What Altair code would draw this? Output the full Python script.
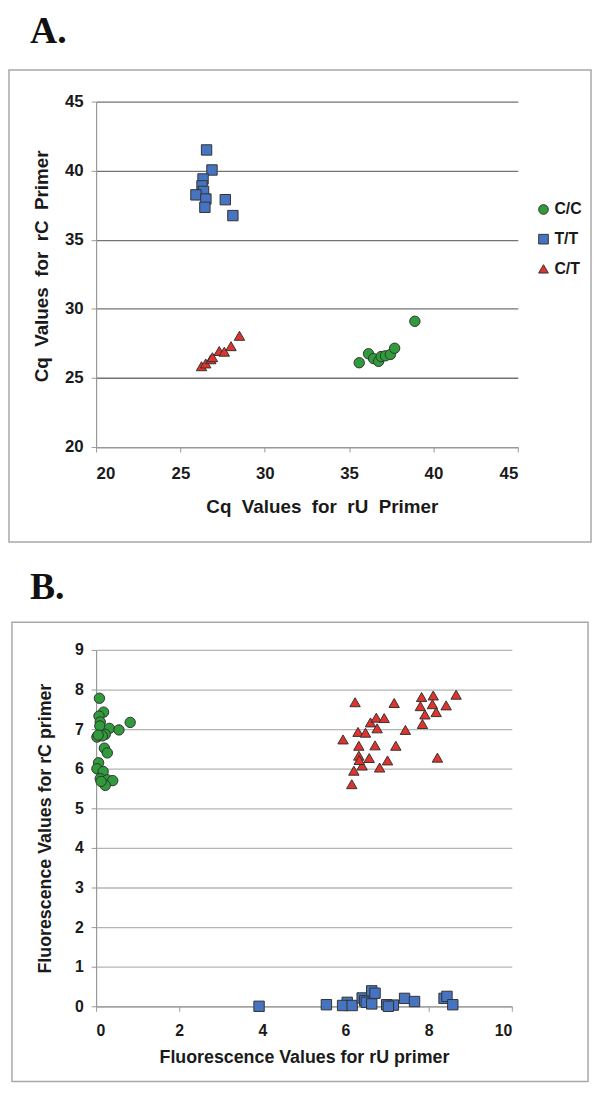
import altair as alt
import pandas as pd

# ---------------- Panel A (Cq values) ----------------
a_cc_x = [35.6, 36.15, 36.45, 36.75, 36.9, 37.15, 37.45, 37.7, 38.9]
a_cc_y = [26.1, 26.75, 26.4, 26.2, 26.55, 26.6, 26.7, 27.15, 29.1]
a_tt_x = [26.55, 26.87, 26.34, 26.28, 26.37, 25.92, 26.51, 26.45, 27.66, 28.11]
a_tt_y = [41.5, 40.05, 39.4, 38.9, 38.5, 38.25, 37.95, 37.35, 37.9, 36.75]
a_ct_x = [26.25, 26.5, 26.8, 26.9, 27.3, 27.6, 28.0, 28.5]
a_ct_y = [25.85, 26.05, 26.35, 26.5, 26.95, 26.9, 27.3, 28.05]
a_xticks = [20, 25, 30, 35, 40, 45]
a_yticks = [20, 25, 30, 35, 40, 45]

# ---------------- Panel B (fluorescence values) ----------------
b_cc_x = [0.08, 0.18, 0.07, 0.1, 0.09, 0.32, 0.55, 0.82, 0.22, 0.02, 0.15,
          0.2, 0.27, 0.06, 0.02, 0.17, 0.1, 0.27, 0.4, 0.22, 0.12, 0.05]
b_cc_y = [7.78, 7.43, 7.33, 7.18, 7.08, 7.02, 6.98, 7.17, 6.87, 6.8, 6.83,
          6.52, 6.4, 6.15, 6.0, 5.93, 5.75, 5.72, 5.7, 5.58, 5.68, 6.85]
b_tt_x = [3.92, 5.54, 6.04, 5.93, 6.16, 6.40, 6.46, 6.50, 6.63, 6.71,
          6.63, 6.99, 7.15, 7.03, 7.42, 7.66, 8.37, 8.44, 8.58]
b_tt_y = [0.0, 0.04, 0.1, 0.02, 0.02, 0.21, 0.14, 0.1, 0.39, 0.33,
          0.06, 0.04, 0.03, 0.0, 0.2, 0.12, 0.2, 0.25, 0.04]
b_ct_x = [6.23, 7.17, 7.83, 8.11, 8.66, 7.80, 8.09, 8.42, 7.91, 8.18, 7.85,
          6.60, 6.74, 6.93, 6.76, 7.44, 6.30, 6.48, 5.94, 6.32, 6.71, 7.21,
          6.32, 6.57, 8.21, 7.01, 6.40, 6.82, 6.20, 6.15, 6.33]
b_ct_y = [7.68, 7.66, 7.81, 7.85, 7.87, 7.58, 7.63, 7.60, 7.37, 7.43, 7.13,
          7.17, 7.29, 7.28, 7.02, 6.98, 6.93, 6.91, 6.74, 6.58, 6.59, 6.58,
          6.33, 6.27, 6.28, 6.21, 6.08, 6.03, 5.95, 5.61, 6.22]
b_xticks = [0, 2, 4, 6, 8, 10]
b_yticks = [0, 1, 2, 3, 4, 5, 6, 7, 8, 9]

genotypes = ["C/C", "T/T", "C/T"]
colors = ["#2f9b3a", "#4674c0", "#e0332c"]
shapes = ["circle", "square", "triangle-up"]


def make_df(cc_x, cc_y, tt_x, tt_y, ct_x, ct_y):
    rows = []
    for g, xs, ys in (("C/C", cc_x, cc_y), ("T/T", tt_x, tt_y), ("C/T", ct_x, ct_y)):
        for x, y in zip(xs, ys):
            rows.append({"x": x, "y": y, "genotype": g})
    return pd.DataFrame(rows)


FONT = "Liberation Sans"


def panel(df, label, xdom, ydom, xticks, yticks, xtitle, ytitle, w, h,
          box, grid_color, legend_x, legend_y, row_pad, tick_size_font,
          x_lab_pad, x_title_pad, y_title_pad, title_size, title_offset,
          title_dx, x_title_x=None, y_title_y=None):
    legend = alt.Legend(
        title=None, orient="none", legendX=legend_x, legendY=legend_y,
        labelFont=FONT, labelFontSize=16, labelFontWeight="bold",
        labelColor="#1a1a1a", symbolSize=95, symbolStrokeColor="#333333",
        symbolStrokeWidth=1, rowPadding=row_pad, labelOffset=3, padding=0,
    )
    xaxis_kw = dict(values=xticks, title=xtitle, grid=False,
                    tickSize=5, tickColor="#999999",
                    domainColor="#999999", domainWidth=1.2,
                    labelFont=FONT, labelFontSize=tick_size_font,
                    labelFontWeight="bold", labelColor="#1a1a1a",
                    labelPadding=x_lab_pad, titleFont=FONT,
                    titleFontSize=title_size, titleFontWeight="bold",
                    titleColor="#1a1a1a", titlePadding=x_title_pad)
    if x_title_x is not None:
        xaxis_kw["titleX"] = x_title_x
    yaxis_kw = dict(values=yticks, title=ytitle, grid=True,
                    gridColor=grid_color, gridWidth=1.3,
                    tickSize=5, tickColor="#999999",
                    domainColor="#999999", domainWidth=1.2,
                    labelFont=FONT, labelFontSize=tick_size_font,
                    labelFontWeight="bold", labelColor="#1a1a1a",
                    labelPadding=8, titleFont=FONT,
                    titleFontSize=title_size, titleFontWeight="bold",
                    titleColor="#1a1a1a", titlePadding=y_title_pad)
    if y_title_y is not None:
        yaxis_kw["titleY"] = y_title_y
    pts = alt.Chart(df).mark_point(
        filled=True, size=110, stroke="#333333", strokeWidth=1, opacity=1
    ).encode(
        x=alt.X("x:Q", scale=alt.Scale(domain=xdom, nice=False, zero=False),
                axis=alt.Axis(**xaxis_kw)),
        y=alt.Y("y:Q", scale=alt.Scale(domain=ydom, nice=False, zero=False),
                axis=alt.Axis(**yaxis_kw)),
        color=alt.Color("genotype:N", scale=alt.Scale(domain=genotypes, range=colors),
                        legend=legend),
        shape=alt.Shape("genotype:N", scale=alt.Scale(domain=genotypes, range=shapes),
                        legend=legend),
    )
    frame = alt.Chart(pd.DataFrame({"k": [0]})).mark_rect(
        fillOpacity=0, stroke="#a8a8a8", strokeWidth=1.5
    ).encode(
        x=alt.value(box[0]), x2=alt.value(box[1]),
        y=alt.value(box[2]), y2=alt.value(box[3]),
    )
    return alt.layer(frame, pts).properties(
        width=w, height=h,
        title=alt.TitleParams(
            text=label, anchor="start", frame="bounds", font="Liberation Serif",
            fontSize=38, fontWeight="bold", color="#111111",
            offset=title_offset, dx=title_dx,
        ),
    )


df_a = make_df(a_cc_x, a_cc_y, a_tt_x, a_tt_y, a_ct_x, a_ct_y)
df_b = make_df(b_cc_x, b_cc_y, b_tt_x, b_tt_y, b_ct_x, b_ct_y)

sp = "\u00a0\u00a0"
chart_a = panel(
    df_a, "A.", [20, 45], [20, 45], a_xticks, a_yticks,
    f"Cq{sp}Values{sp}for{sp}rU{sp}Primer", f"Cq{sp}Values{sp}for{sp}rC{sp}Primer",
    426, 349, (-88, 500, -32, 445), "#737373", 444, 101, 14, 17,
    14, 16, 13, 19, 18, 22, x_title_x=228, y_title_y=166,
)
chart_b = panel(
    df_b, "B.", [0, 10], [0, 9], b_xticks, b_yticks,
    "Fluorescence Values for rU primer", "Fluorescence Values for rC primer",
    420, 360, (-85, 497, -28, 436), "#b4b4b4", 446, 102, 11, 16,
    12, 10, 20, 18, 15, 19,
)

chart = alt.vconcat(chart_a, chart_b, spacing=26).properties(
    padding={"left": 0, "top": 0, "right": 0, "bottom": 0}
).configure_view(strokeWidth=0)

chart.save("out.html", embed_options={"renderer": "svg", "actions": False})
